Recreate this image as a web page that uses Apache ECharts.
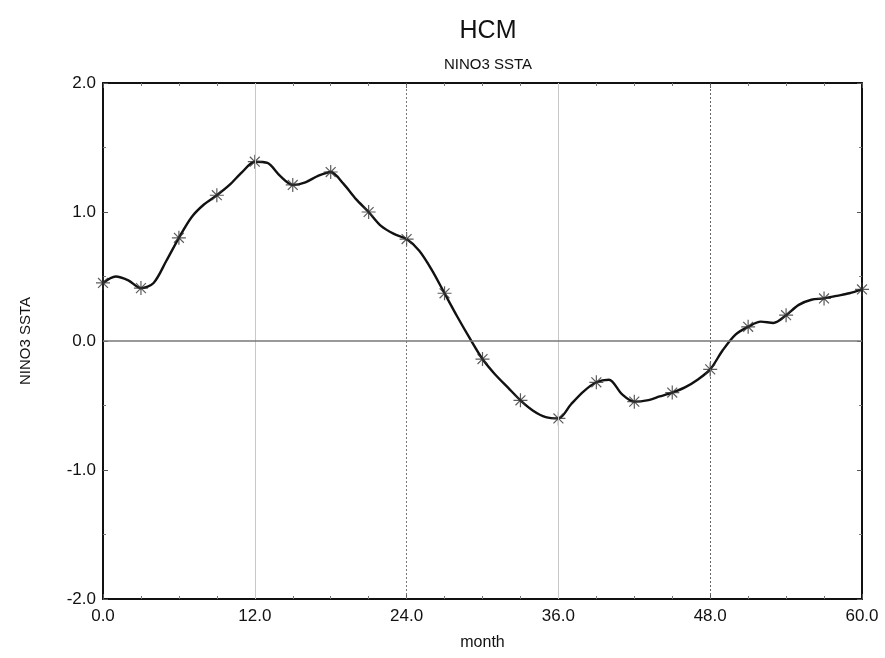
<!DOCTYPE html>
<html>
<head>
<meta charset="utf-8">
<script src="https://cdn.jsdelivr.net/npm/echarts@6/dist/echarts.min.js"></script>
<style>
  html, body { margin: 0; padding: 0; background: #fff; }
  #chart { width: 885px; height: 658px; }
</style>
</head>
<body>
<div id="chart"></div>
<script>
// Monthly NINO3 SST anomaly from the HCM run (months 0..60)
const months = Array.from({ length: 61 }, (_, i) => i);
const ssta = [
  0.45, 0.50, 0.47, 0.41, 0.45, 0.62, 0.80, 0.96, 1.06, 1.13,
  1.21, 1.31, 1.39, 1.38, 1.28, 1.21, 1.23, 1.28, 1.31, 1.22,
  1.10, 1.00, 0.89, 0.83, 0.79, 0.70, 0.55, 0.37, 0.19, 0.02,
  -0.14, -0.26, -0.36, -0.46, -0.54, -0.59, -0.60, -0.49, -0.39, -0.32,
  -0.30, -0.41, -0.47, -0.46, -0.43, -0.40, -0.36, -0.30, -0.22, -0.07,
  0.05, 0.11, 0.15, 0.14, 0.20, 0.28, 0.32, 0.33, 0.35, 0.37,
  0.40
];
// every third month carries a star marker
const markerStep = 3;
const xTicks = [0, 12, 24, 36, 48, 60];
const yTicks = [-2, -1, 0, 1, 2];

const lineData = months.map((m, i) => [m, ssta[i]]);
const markerData = lineData.filter((_, i) => i % markerStep === 0);

const fontFamily = '"Liberation Sans", Arial, Helvetica, sans-serif';
const star = 'path://M0,-10L0,10M-10,0L10,0M-7.07,-7.07L7.07,7.07M-7.07,7.07L7.07,-7.07';

const chart = echarts.init(document.getElementById('chart'), null, { renderer: 'canvas' });

const frameLine = { show: true, onZero: false, lineStyle: { color: '#111', width: 2 } };
const innerTick = { show: true, inside: true, length: 5, lineStyle: { color: '#555', width: 1 } };
const innerMinor = { show: true, splitNumber: 2, length: 3, lineStyle: { color: '#777', width: 1 } };

chart.setOption({
  animation: false,
  backgroundColor: '#fff',
  title: [
    { text: 'HCM', left: 483, top: 14, textAlign: 'center',
      textStyle: { fontFamily, fontSize: 25, fontWeight: 'normal', color: '#111' } },
    { text: 'NINO3 SSTA', left: 483, top: 52, textAlign: 'center',
      textStyle: { fontFamily, fontSize: 15, fontWeight: 'normal', color: '#111' } }
  ],
  grid: { left: 103, right: 23, top: 83, bottom: 59, containLabel: false },
  xAxis: [
    {
      type: 'value', min: 0, max: 60, interval: 12,
      name: 'month', nameLocation: 'middle', nameGap: 36,
      nameTextStyle: { fontFamily, fontSize: 16, color: '#111' },
      axisLine: frameLine,
      axisTick: innerTick,
      minorTick: Object.assign({}, innerMinor, { splitNumber: 4 }),
      axisLabel: {
        fontFamily, fontSize: 17, color: '#111', margin: 9,
        formatter: v => xTicks.includes(v) ? v.toFixed(1) : ''
      },
      splitLine: { show: false }
    },
    {
      type: 'value', min: 0, max: 60, interval: 12, position: 'top',
      axisLine: frameLine,
      axisTick: innerTick,
      minorTick: Object.assign({}, innerMinor, { splitNumber: 4 }),
      axisLabel: { show: false },
      splitLine: { show: false }
    }
  ],
  yAxis: [
    {
      type: 'value', min: -2, max: 2, interval: 1,
      name: 'NINO3 SSTA', nameLocation: 'middle', nameGap: 70, nameRotate: 90,
      nameTextStyle: { fontFamily, fontSize: 15, color: '#111' },
      axisLine: frameLine,
      axisTick: innerTick,
      minorTick: innerMinor,
      axisLabel: {
        fontFamily, fontSize: 17, color: '#111', margin: 7,
        formatter: v => yTicks.includes(v) ? v.toFixed(1) : ''
      },
      splitLine: { show: false }
    },
    {
      type: 'value', min: -2, max: 2, interval: 1, position: 'right',
      axisLine: frameLine,
      axisTick: innerTick,
      minorTick: innerMinor,
      axisLabel: { show: false },
      splitLine: { show: false }
    }
  ],
  series: [
    {
      // reference lines: month grid and zero anomaly
      type: 'line', data: [], silent: true,
      markLine: {
        symbol: 'none', silent: true, label: { show: false },
        data: [
          { xAxis: 12, lineStyle: { color: '#c8c8c8', width: 1, type: 'solid' } },
          { xAxis: 24, lineStyle: { color: '#777', width: 1, type: [2, 2] } },
          { xAxis: 36, lineStyle: { color: '#c8c8c8', width: 1, type: 'solid' } },
          { xAxis: 48, lineStyle: { color: '#666', width: 1, type: [2, 2] } },
          { yAxis: 0, lineStyle: { color: '#777', width: 1.5, type: 'solid' } }
        ]
      }
    },
    {
      name: 'NINO3 SSTA', type: 'line', data: lineData,
      smooth: 0.3, showSymbol: false, z: 3,
      lineStyle: { color: '#111', width: 2.4 }
    },
    {
      type: 'scatter', data: markerData, z: 4,
      symbol: star, symbolSize: 14,
      itemStyle: { color: 'rgba(0,0,0,0)', borderColor: '#333', borderWidth: 1.2 }
    }
  ]
});
</script>
</body>
</html>
